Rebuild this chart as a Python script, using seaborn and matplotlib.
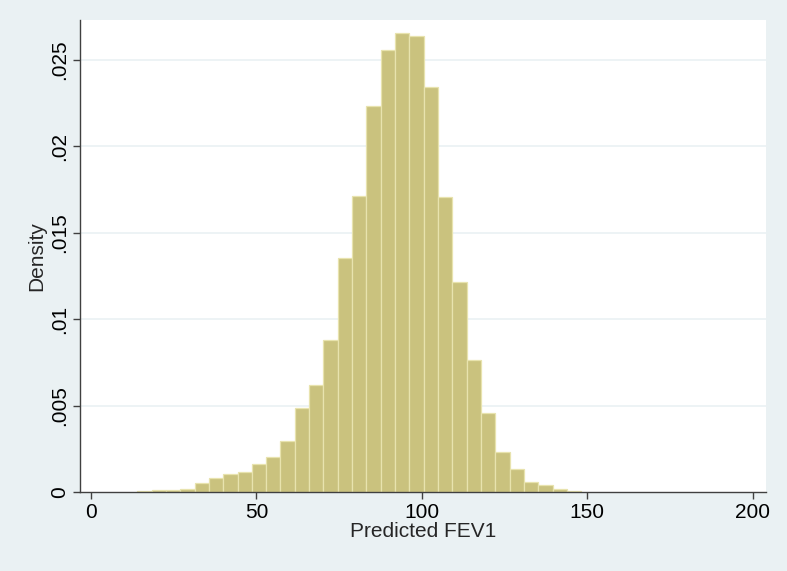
import numpy as np
import pandas as pd
import matplotlib
matplotlib.use("Agg")
import matplotlib.pyplot as plt
import seaborn as sns

# histogram: first bin edge, bin width, bin heights (density)
bin_start = 14.0
bin_width = 4.327
density = [0.00005, 0.0001, 0.00013, 0.00015, 0.0005, 0.00079, 0.00104, 0.00114,
           0.00159, 0.00201, 0.00294, 0.00486, 0.00618, 0.00877, 0.01353, 0.0171,
           0.02232, 0.02556, 0.02656, 0.02639, 0.02342, 0.01708, 0.01216, 0.00761,
           0.00454, 0.0023, 0.0013, 0.0006, 0.00043, 0.00016, 0.00005]
y_ticks = [0, 0.005, 0.01, 0.015, 0.02, 0.025]
y_labels = ["0", ".005", ".01", ".015", ".02", ".025"]
x_ticks = [0, 50, 100, 150, 200]

n_bins = len(density)
bin_end = bin_start + bin_width * n_bins
centers = bin_start + bin_width * (np.arange(n_bins) + 0.5)
df = pd.DataFrame({"fev1": centers, "density": density})

sns.set_style("white")
plt.rcParams["font.family"] = ["Liberation Sans", "DejaVu Sans"]

bg = "#EAF1F3"
fig = plt.figure(figsize=(7.87, 5.71), dpi=100, facecolor=bg)
ax = fig.add_axes([0.1017, 0.1384, 0.8713, 0.8266])
ax.set_facecolor("white")

sns.histplot(data=df, x="fev1", weights="density", bins=n_bins,
             binrange=(bin_start, bin_end), stat="count",
             color="#CAC27E", edgecolor="#E8E3AE", linewidth=0.9, alpha=1, ax=ax)

ax.set_xlim(-3.3, 203.9)
ax.set_ylim(0, 0.0273)
ax.set_xticks(x_ticks)
ax.set_yticks(y_ticks)
ax.set_yticklabels(y_labels, rotation=90, va="center")
for y in y_ticks[1:]:
    ax.axhline(y, color="#EAF1F3", lw=1.2, zorder=0)

for s in ["top", "right"]:
    ax.spines[s].set_visible(False)
for s in ["left", "bottom"]:
    ax.spines[s].set_color("#404040")
    ax.spines[s].set_linewidth(1.0)
ax.tick_params(axis="both", bottom=True, left=True, direction="out", length=5,
               width=1, color="#404040", labelsize=15, labelcolor="black", pad=3)
ax.set_xlabel("Predicted FEV1", fontsize=15, labelpad=0)
ax.set_ylabel("Density", fontsize=15, labelpad=3)

fig.savefig("out.png", dpi=100, facecolor=bg)
